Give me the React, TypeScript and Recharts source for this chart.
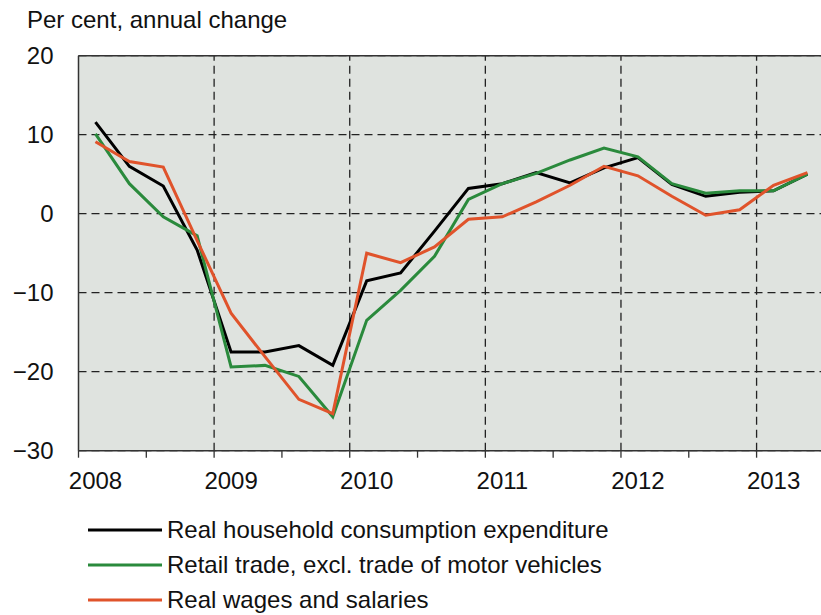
import React from 'react';
import { LineChart, Line, XAxis, YAxis, CartesianGrid, ReferenceLine, Legend } from 'recharts';

const quarters = [
  '2008Q1','2008Q2','2008Q3','2008Q4',
  '2009Q1','2009Q2','2009Q3','2009Q4',
  '2010Q1','2010Q2','2010Q3','2010Q4',
  '2011Q1','2011Q2','2011Q3','2011Q4',
  '2012Q1','2012Q2','2012Q3','2012Q4',
  '2013Q1','2013Q2',
];
const consumption = [11.6, 6.0, 3.5, -4.6, -17.5, -17.5, -16.7, -19.2, -8.5, -7.5, -2.2, 3.2, 3.8, 5.2, 3.9, 5.8, 7.1, 3.7, 2.2, 2.7, 2.9, 5.0];
const retail = [10.1, 3.8, -0.4, -2.8, -19.4, -19.2, -20.6, -25.7, -13.5, -9.7, -5.4, 1.8, 3.8, 5.1, 6.8, 8.3, 7.2, 3.8, 2.6, 2.9, 2.9, 5.0];
const wages = [9.1, 6.6, 5.9, -3.4, -12.6, -18.1, -23.5, -25.3, -5.0, -6.2, -4.2, -0.7, -0.4, 1.5, 3.6, 6.0, 4.8, 2.2, -0.2, 0.5, 3.6, 5.2];

const yearTicks = [2008, 2009, 2010, 2011, 2012, 2013];
const halfYearTicks = [2008, 2008.5, 2009, 2009.5, 2010, 2010.5, 2011, 2011.5, 2012, 2012.5, 2013];
const yTicks = [-30, -20, -10, 0, 10, 20];

const seriesNames = {
  consumption: 'Real household consumption expenditure',
  retail: 'Retail trade, excl. trade of motor vehicles',
  wages: 'Real wages and salaries',
};
const colors = { consumption: '#000000', retail: '#2a8a3c', wages: '#e0532b' };

const data = quarters.map((q, i) => {
  const year = Number(q.slice(0, 4));
  const qn = Number(q.slice(5));
  return {
    t: year + (qn - 1) * 0.25 + 0.125,
    consumption: consumption[i],
    retail: retail[i],
    wages: wages[i],
  };
});

const FONT = '"Liberation Sans", Arial, sans-serif';

const XTick = (props: any) => {
  const { x, y, payload } = props;
  if (!yearTicks.includes(payload.value)) return null;
  return (
    <text x={x + 17} y={y} dy="0.71em" textAnchor="middle" fontSize={24} fontFamily={FONT} fill="#111">
      {payload.value}
    </text>
  );
};

const LegendContent = () => {
  const keys = ['consumption', 'retail', 'wages'] as const;
  return (
    <div style={{ fontFamily: FONT, fontSize: 24, color: '#111' }}>
      {keys.map((k) => (
        <div key={k} style={{ height: 35, display: 'flex', alignItems: 'center' }}>
          <svg width={74} height={6} style={{ display: 'block' }}>
            <line x1={0} y1={3} x2={74} y2={3} stroke={colors[k]} strokeWidth={3} />
          </svg>
          <span style={{ marginLeft: 5, lineHeight: '24px' }}>{seriesNames[k]}</span>
        </div>
      ))}
    </div>
  );
};

export default function App() {
  return (
    <div style={{ position: 'absolute', left: 0, top: 0, width: 821, height: 615, background: '#fff' }}>
      <div style={{ position: 'absolute', left: 27, top: 8, fontFamily: FONT, fontSize: 24, lineHeight: '24px', color: '#111', zIndex: 2 }}>
        Per cent, annual change
      </div>
      <LineChart width={821} height={615} data={data} margin={{ top: 55.7, right: 0, bottom: 0, left: 0 }}>
        <CartesianGrid
          vertical={false}
          fill="#dfe3df"
          stroke="#222"
          strokeDasharray="8 5"
          strokeWidth={1.3}
        />
        {yearTicks.slice(1).map((yr) => (
          <ReferenceLine key={yr} x={yr} stroke="#222" strokeDasharray="8 5" strokeWidth={1.3} />
        ))}
        <ReferenceLine y={20} stroke="#333" strokeWidth={1.5} />
        <XAxis
          type="number"
          dataKey="t"
          domain={[2008, 2013.475]}
          ticks={halfYearTicks}
          interval={0}
          height={164.3}
          tickSize={7}
          tickMargin={14}
          tick={<XTick />}
          axisLine={{ stroke: '#333', strokeWidth: 1.5 }}
          tickLine={{ stroke: '#333', strokeWidth: 1.3 }}
          allowDataOverflow
        />
        <YAxis
          type="number"
          domain={[-30, 20]}
          ticks={yTicks}
          interval={0}
          width={78.5}
          tickSize={0}
          tickMargin={25}
          tickFormatter={(v: number) => String(v).replace('-', '\u2212')}
          tick={{ fontSize: 24, fontFamily: FONT, fill: '#111' }}
          axisLine={{ stroke: '#333', strokeWidth: 1.5 }}
          tickLine={false}
        />
        <Line type="linear" dataKey="consumption" stroke={colors.consumption} strokeWidth={3} dot={false} isAnimationActive={false} />
        <Line type="linear" dataKey="retail" stroke={colors.retail} strokeWidth={3} dot={false} isAnimationActive={false} />
        <Line type="linear" dataKey="wages" stroke={colors.wages} strokeWidth={3} dot={false} isAnimationActive={false} />
        <Legend
          layout="horizontal"
          verticalAlign="middle"
          align="center"
          content={<LegendContent />}
          wrapperStyle={{ left: 88, top: 512, width: 700 }}
        />
      </LineChart>
    </div>
  );
}
